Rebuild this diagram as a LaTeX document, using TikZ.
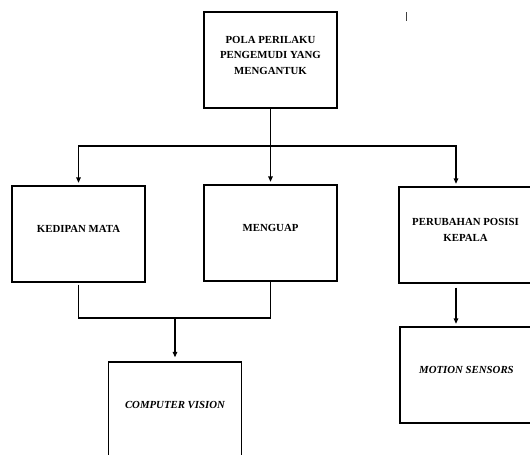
\documentclass[tikz,border=0pt]{standalone}
\usepackage{fontspec}
\setmainfont{Liberation Serif}
\usepackage{tikz}
\usetikzlibrary{arrows.meta}
\tikzset{%
  tipA/.tip={Triangle[length=5.5pt,width=4.5pt]},
  boxA/.style={draw, line width=1.3pt, minimum width=133pt, minimum height=96pt, inner sep=0pt},
  txtA/.style={align=center, font=\fontsize{10.8}{15.5}\selectfont\bfseries, yshift=5pt},
  txtB/.style={align=center, font=\fontsize{10.8}{15.5}\selectfont\bfseries\itshape, yshift=5pt},
  lineA/.style={line width=1.3pt},
  %arrA/.style={lineA, -tipA, shorten >=2.5pt}
}

\begin{document}
\begin{tikzpicture}[x=1pt,y=-1pt]
\clip (0,0) rectangle (530,455);
\fill[white] (0,0) rectangle (530,455);
\node[boxA, label={[txtA]center:POLA PERILAKU\\PENGEMUDI YANG\\MENGANTUK}] (pola) at (270.5,60) {};
\node[boxA, label={[txtA]center:KEDIPAN MATA}] (kedip) at (78.5,234) {};
\node[boxA, label={[txtA]center:MENGUAP}] (uap) at (270.5,233) {};
\node[boxA, label={[txtA]center:PERUBAHAN POSISI\\KEPALA}] (kepala) at (465.5,235) {};
\node[boxA, label={[txtB]center:MOTION SENSORS}] (sensor) at (466.5,375) {};
\node[boxA, label={[txtB]center:COMPUTER VISION}] (vision) at (175,410) {};
\coordinate (split) at (270.5,146);
\coordinate (join) at (175,318);
\draw[lineA] (pola.south) -- (split);
\draw[lineA, -tipA, shorten >=2.5pt] (split) -| (kedip.north);
\draw[lineA, -tipA, shorten >=2.5pt] (split) -- (uap.north);
\draw[lineA, -tipA, shorten >=2.5pt] (split) -| ([xshift=-9.5pt]kepala.north);
\draw[lineA, shorten <=2pt] (kedip.south) |- (join) -| (uap.south);
\draw[lineA, -tipA, shorten >=4pt] (join) -- (vision.north);
\draw[lineA, -tipA, shorten <=4pt, shorten >=2.5pt] ([xshift=-9.5pt]kepala.south) -- ([xshift=-10.5pt]sensor.north);
% stray mark
\draw[line width=0.8pt, black!75] (406,12) -- (406,21);
\end{tikzpicture}
\end{document}
